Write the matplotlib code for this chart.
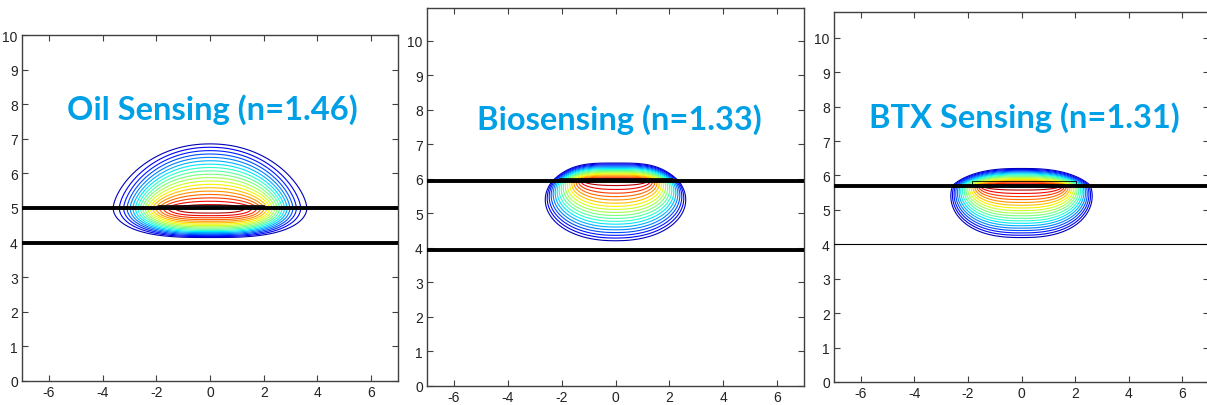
import numpy as np
import matplotlib.pyplot as plt
from matplotlib.patches import Rectangle

plt.rcParams['font.family'] = ['Liberation Sans', 'DejaVu Sans']
plt.rcParams['axes.unicode_minus'] = False

# panel texts and geometry
titles = ["Oil Sensing (n=1.46)", "Biosensing (n=1.33)", "BTX Sensing (n=1.31)"]
title_pos = [(0.07, 7.57), (0.15, 7.45), (0.09, 7.42)]
ytops = [10.0, 10.95, 10.75]
interface_y = [5.0, 5.95, 5.7]
bottom_y = [4.0, 3.95, 4.0]
bottom_lw = [2.8, 2.8, 0.8]
cores = [(-1.95, 2.0, 5.0, 5.09), (-2.1, 2.1, 5.95, 6.03), (-1.84, 2.04, 5.7, 5.85)]
xticks = [-6, -4, -2, 0, 2, 4, 6]
yticks = list(range(0, 11))
levels = np.linspace(0.05, 0.95, 19)

# oil panel mode shape: corner half width, dome (height, p, q), bowl (depth, exp, p, q)
oil_w = 2.74
oil_dome = [1.95, 2.1, 1.55]
oil_bowl = [0.88, 0.6, 3.0, 2.0]

# bio / btx lower lobe: [depth, depth exp, centre, centre exp, a0, a1, a exp, power]
bio_lobe = [1.82, 0.85, 0.6, 1.5, 1.08, 1.6, 0.9, 2.2]
btx_lobe = [1.57, 0.85, 0.32, 1.5, 1.35, 1.35, 0.9, 2.5]
# thin cap above the interface: [height, p, q]
bio_cap = [0.535, 3.5, 1.0]
btx_cap = [0.53, 2.7, 1.2]

axes_pos = [[22/1207, 24/406, 376/1207, 346/406],
            [427/1207, 19/406, 377/1207, 378/406],
            [834/1207, 23/406, 375/1207, 370/406]]


def oil_field(X, Y, y0):
    z = Y - y0
    ax_ = np.abs(X)
    lo = np.zeros_like(X)
    hi = np.ones_like(X)
    H, p, q = oil_dome
    Hl, e, pl, ql = oil_bowl
    for _ in range(40):
        L = 0.5 * (lo + hi)
        half = oil_w * (-np.log(L)) ** 0.25
        up = (np.abs(z) / (H * (1 - L))) ** q + (ax_ / half) ** p
        dn = (np.abs(z) / (Hl * (1 - L) ** e)) ** ql + (ax_ / half) ** pl
        phi = np.where(z >= 0, up, dn)
        inside = phi <= 1
        lo = np.where(inside, L, lo)
        hi = np.where(inside, hi, L)
    return 0.5 * (lo + hi)


def lobe_field(X, Y, y0, prm, cap):
    dbot, de, c0, ce, a0, a1, ae, pe = prm
    hu, pu, qu = cap
    ax_ = np.abs(X)
    z = Y - y0
    d = np.abs(z)
    lo = np.zeros_like(X)
    hi = np.full_like(X, 1.5)
    for _ in range(40):
        t = 0.5 * (lo + hi)
        c = c0 * t ** ce
        B = dbot * t ** de - c
        A = a0 + a1 * t ** ae
        xi = A * np.clip(1 - (c / B) ** 2, 1e-6, None) ** (1 / pe)
        dn = (ax_ / A) ** pe + ((d - c) / B) ** 2
        up = (d / (hu * t)) ** qu + (ax_ / xi) ** pu
        phi = np.where(z >= 0, up, dn)
        inside = phi <= 1
        hi = np.where(inside, t, hi)
        lo = np.where(inside, lo, t)
    return 1 - 0.5 * (lo + hi)


fig = plt.figure(figsize=(12.07, 4.06), dpi=100)
xs = np.linspace(-7, 7, 701)
ys = np.linspace(0, 11, 1321)
X, Y = np.meshgrid(xs, ys)

for i in range(3):
    ax = fig.add_axes(axes_pos[i])
    if i == 0:
        F = oil_field(X, Y, interface_y[0])
    elif i == 1:
        F = lobe_field(X, Y, interface_y[1], bio_lobe, bio_cap)
    else:
        F = lobe_field(X, Y, interface_y[2], btx_lobe, btx_cap)
    ax.contour(X, Y, F, levels=levels, cmap='jet', vmin=0, vmax=1, linewidths=0.8)

    ax.axhline(interface_y[i], color='black', lw=2.8, zorder=3)
    ax.axhline(bottom_y[i], color='black', lw=bottom_lw[i], zorder=3)
    x0, x1, y0, y1 = cores[i]
    ax.add_patch(Rectangle((x0, y0), x1 - x0, y1 - y0, fill=False,
                           ec='black', lw=0.6, zorder=4))

    ax.text(title_pos[i][0], title_pos[i][1], titles[i], ha='center', va='baseline',
            color='#00A0E6', fontsize=23.5, fontweight='bold', zorder=5,
            family=['Lato', 'DejaVu Sans'])

    ax.set_xlim(-7, 7)
    ax.set_ylim(0, ytops[i])
    ax.set_xticks(xticks)
    ax.set_yticks(yticks)
    ax.tick_params(direction='in', length=4, width=0.8, top=True, right=True,
                   labelsize=10, pad=3, color='#404040', labelcolor='#222222')
    for s in ax.spines.values():
        s.set_color('#404040')
        s.set_linewidth(1.0)

fig.savefig('out.png', dpi=100)
